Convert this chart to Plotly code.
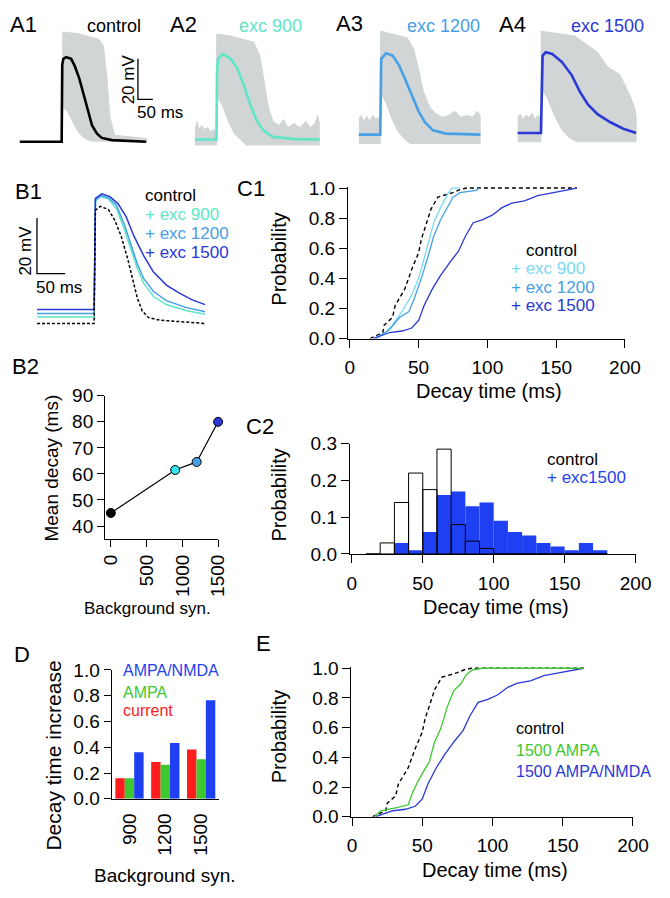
import plotly.graph_objects as go

W, H = 670, 898
FONT = 'Liberation Sans, Arial, sans-serif'

# colours
GREY = '#d1d5d5'
C_900 = '#5ee6c6'
C_900_CDF = '#7ad9f2'
C_900_DOT = '#33e3ef'
C_1200 = '#45a0e6'
C_1500 = '#2a38d6'
C_HIST = '#1f3ff2'
C_AMPA = '#3cc82e'
C_CUR = '#ff1c1c'

# ---------------- A1-A4: single trials (grey envelope) and mean (ms, mV) ----------------
a1_hi_t = [0, 4, 60, 124, 140, 151, 162, 178, 284]
a1_hi_v = [0, 54, 53, 50.4, 47.2, 32.8, 12, 3.2, 1.6]
a1_lo_t = [0, 4, 20, 40, 60, 80, 100, 284]
a1_lo_v = [0, 17, 15, 9, 4, 1.5, 0.3, 0.3]
a1_t = [-141.4, 0, 2, 5.5, 15.6, 31.9, 43, 59, 75.4, 89.4, 102, 118.6, 135, 168, 284]
a1_v = [0, 0, 38, 40.8, 41.6, 40.8, 37.6, 31.2, 22.4, 14.4, 8, 4, 1.9, 0.8, 0]

a2_hi_t = [-72.5, -65, -58, -50, -40, -30, -20, -10, -1, 1, 49, 125, 146, 157, 174, 190,
           210, 225, 240, 260, 280, 300, 315, 330, 340, 346.8]
a2_hi_v = [5, 10, 6, 8, 6, 7, 5, 6, 5, 53, 52, 49, 42, 33, 17, 10, 8, 11, 7, 9, 7, 10, 7, 9, 13, 8]
a2_lo_t = [-72.5, 0, 2, 20, 40, 60, 80, 100, 346.8]
a2_lo_v = [-1.6, -1.6, 22, 18, 10, 4, 1, -1.6, -1.6]
a2_t = [-72.5, 0, 2, 5.5, 21.8, 48.1, 70, 91.6, 113.1, 135, 156.8, 189.2, 265, 346.8]
a2_v = [1.1, 1.1, 35, 40.8, 43.2, 40.8, 36, 28, 18.4, 10.4, 5.6, 2.4, 1.3, 1.1]

a3_hi_t = [-72.8, -65, -55, -45, -35, -25, -15, -5, -1, 1, 90, 112, 128, 144, 166, 188,
           210, 230, 250, 270, 290, 310, 325, 336.6]
a3_hi_v = [11, 13, 10, 12.5, 10, 13, 11, 12, 11, 54.4, 51.2, 45.6, 36, 25, 17, 13.6,
           12, 13, 15, 12, 13, 12, 15, 13]
a3_lo_t = [-72.8, 0, 2, 20, 40, 60, 80, 100, 336.6]
a3_lo_v = [-0.8, -0.8, 24, 19, 11, 5, 1.5, -0.8, -0.8]
a3_t = [-72.8, 0, 3.25, 19.5, 41.3, 63.1, 84.5, 106.3, 128, 149.5, 176.8, 220, 336.6]
a3_v = [3.5, 3.5, 40.8, 43.5, 42.4, 37.6, 30.4, 22.4, 15.2, 9.6, 5.6, 4, 3.5]

a4_hi_t = [-79, -70, -60, -50, -40, -30, -20, -10, -1, 1, 114, 190, 222, 265, 298, 314, 320.8]
a4_hi_v = [12, 13.5, 11, 13, 12, 14, 11, 13, 12, 54.4, 52, 44, 37, 33, 23, 17, 12]
a4_lo_t = [-79, 0, 2, 20, 45, 70, 95, 120, 320.8]
a4_lo_v = [0, 0, 26, 22, 13, 6, 2, 0, 0]
a4_t = [-79, 0, 5.5, 16.3, 38, 70.5, 103, 130, 157.3, 189.8, 233, 276.3, 319.8]
a4_v = [4.3, 4.3, 42.4, 44, 43.2, 39.2, 32.8, 24.8, 18.4, 13.6, 9.6, 6.4, 4.3]

# ---------------- B1: mean traces (ms, mV) ----------------
b1_t_ctrl = [-101.7, 0, 2.3, 10.9, 25.3, 36.7, 48.3, 59.8, 68.4, 77, 85.7, 97, 117, 151.7, 197.7]
b1_v_ctrl = [0, 0, 40.7, 42.1, 41, 37.2, 31.3, 23.2, 16.1, 9.1, 4.5, 2.1, 1.2, 0.7, 0]
b1_t_900 = [-101.7, 0, 2.3, 10.9, 25.3, 39.7, 54, 65.5, 77, 88.4, 105.7, 128.7, 163, 197.7]
b1_v_900 = [2.35, 2.35, 44, 45.6, 44.8, 41.3, 33.7, 26.7, 19.7, 14.4, 9.7, 6.8, 4.7, 3.3]
b1_t_1200 = [-101.7, 0, 2.3, 12.6, 25.3, 39.7, 54, 65.5, 77, 88.4, 105.7, 128.7, 163, 197.7]
b1_v_1200 = [3.6, 3.6, 44.5, 46, 45.2, 42.5, 35.5, 28.4, 21.4, 16.1, 11.5, 8.2, 5.8, 4.2]
b1_t_1500 = [-101.7, 0, 2.3, 13.8, 28, 42.5, 56.9, 71.2, 88.4, 105.7, 128.7, 151.7, 174.7, 197.7]
b1_v_1500 = [5.0, 5.0, 45, 46.6, 45.6, 43.1, 38.4, 31.3, 24.3, 18.5, 13.8, 10.9, 8.5, 6.8]

# scale bars
SCALE_MS, SCALE_MV = 50, 20
a_bar_t, a_bar_v = 256, 20.8
b1_bar_t, b1_bar_v = -101.7, 17.9

# ---------------- C1 / E: cumulative distributions of decay time ----------------
cdf_ctrl_t = [14.6, 24, 25, 31, 33, 40, 45, 50, 52, 55.6, 59, 64, 71, 75, 80, 85, 165]
cdf_ctrl_p = [0, 0.04, 0.09, 0.14, 0.22, 0.33, 0.46, 0.57, 0.66, 0.77, 0.86, 0.94, 0.96, 0.97, 0.99, 1.0, 1.0]
cdf_900_t = [17, 26, 31, 38, 45, 50, 54, 58, 61, 66, 71, 74.4, 80]
cdf_900_p = [0, 0.04, 0.09, 0.18, 0.29, 0.40, 0.53, 0.66, 0.77, 0.87, 0.96, 1.0, 1.0]
cdf_1200_t = [19, 29, 36, 43, 47, 52, 57, 61, 66, 71, 75, 80, 92, 94]
cdf_1200_p = [0, 0.06, 0.14, 0.18, 0.27, 0.40, 0.55, 0.68, 0.79, 0.87, 0.94, 0.97, 0.985, 1.0]
cdf_1500_t = [17, 29, 38, 45, 50, 54, 60, 66, 73, 79, 84, 89.7, 96.7, 103.5, 110.6, 117.8,
              127, 136.6, 148, 158, 165]
cdf_1500_p = [0, 0.04, 0.05, 0.07, 0.12, 0.22, 0.33, 0.42, 0.51, 0.58, 0.68, 0.77, 0.79, 0.82,
              0.87, 0.90, 0.915, 0.95, 0.97, 0.99, 1.0]
cdf_ampa_t = [16, 20.5, 31, 40, 42.5, 47, 50.6, 55, 58.6, 63, 67.8, 72.4, 77, 81.6, 86, 93, 165]
cdf_ampa_p = [0, 0.04, 0.06, 0.08, 0.15, 0.24, 0.30, 0.37, 0.50, 0.59, 0.74, 0.85, 0.89, 0.96, 0.99, 1.0, 1.0]

# ---------------- B2: mean decay vs background synapses ----------------
b2_syn = [0, 900, 1200, 1500]
b2_decay = [45, 61.5, 64.6, 80]

# ---------------- C2: histograms (10 ms bins, left edges) ----------------
c2_left = [10, 20, 30, 40, 50, 60, 70, 80, 90, 100, 110, 120, 130, 140, 150, 160, 170]
c2_ctrl = [0, 0.03, 0.14, 0.22, 0.175, 0.285, 0.08, 0.035, 0.015, 0, 0, 0, 0, 0, 0, 0, 0]
c2_1500 = [0, 0, 0.03, 0.01, 0.06, 0.16, 0.17, 0.13, 0.14, 0.09, 0.06, 0.05, 0.03, 0.02, 0.01, 0.03, 0.01]

# ---------------- D: relative decay time increase ----------------
d_syn = ['900', '1200', '1500']
d_current = [0.16, 0.285, 0.382]
d_ampa = [0.16, 0.265, 0.306]
d_ampa_nmda = [0.361, 0.432, 0.765]


def xdom(a, b):
    return [a / W, b / W]


def ydom(top, bottom):
    return [1 - bottom / H, 1 - top / H]


fig = go.Figure()


def line(x, y, ax, color, width=1.4, dash=None):
    fig.add_trace(go.Scatter(x=x, y=y, mode='lines', xaxis='x' + ax, yaxis='y' + ax,
                             line=dict(color=color, width=width, dash=dash), hoverinfo='skip'))


# A panels
a_sets = [
    (a1_hi_t, a1_hi_v, a1_lo_t, a1_lo_v, a1_t, a1_v, 'black', ''),
    (a2_hi_t, a2_hi_v, a2_lo_t, a2_lo_v, a2_t, a2_v, C_900, '2'),
    (a3_hi_t, a3_hi_v, a3_lo_t, a3_lo_v, a3_t, a3_v, C_1200, '3'),
    (a4_hi_t, a4_hi_v, a4_lo_t, a4_lo_v, a4_t, a4_v, C_1500, '4'),
]
for hi_t, hi_v, lo_t, lo_v, mt, mv, col, ax in a_sets:
    fig.add_trace(go.Scatter(x=hi_t + lo_t[::-1], y=hi_v + lo_v[::-1], mode='lines', fill='toself',
                             fillcolor=GREY, line=dict(color=GREY, width=1),
                             xaxis='x' + ax, yaxis='y' + ax, hoverinfo='skip'))
    line(mt, mv, ax, col, width=2.6)

line([a_bar_t, a_bar_t, a_bar_t + SCALE_MS], [a_bar_v + SCALE_MV, a_bar_v, a_bar_v], '', 'black', 1.3)

# B1
line([b1_bar_t, b1_bar_t, b1_bar_t + SCALE_MS], [b1_bar_v + SCALE_MV, b1_bar_v, b1_bar_v], '5', 'black', 1.3)
line(b1_t_900, b1_v_900, '5', C_900, 1.5)
line(b1_t_1200, b1_v_1200, '5', C_1200, 1.5)
line(b1_t_1500, b1_v_1500, '5', C_1500, 1.5)
line(b1_t_ctrl, b1_v_ctrl, '5', 'black', 1.5, '3px,2px')

# C1
line(cdf_ctrl_t, cdf_ctrl_p, '6', 'black', 1.4, '4px,3px')
line(cdf_900_t, cdf_900_p, '6', C_900_CDF, 1.3)
line(cdf_1200_t, cdf_1200_p, '6', C_1200, 1.3)
line(cdf_1500_t, cdf_1500_p, '6', C_1500, 1.3)

# B2
fig.add_trace(go.Scatter(x=b2_syn, y=b2_decay, mode='lines+markers', xaxis='x7', yaxis='y7',
                         line=dict(color='black', width=1.2), cliponaxis=False,
                         marker=dict(size=9, color=['black', C_900_DOT, C_1200, C_1500],
                                     line=dict(color='black', width=1))))

# C2
fig.add_trace(go.Bar(x=c2_left, y=c2_ctrl, width=10, offset=0, xaxis='x8', yaxis='y8',
                     marker=dict(color='white', line=dict(width=0))))
fig.add_trace(go.Bar(x=c2_left, y=c2_1500, width=10, offset=0, xaxis='x8', yaxis='y8',
                     marker=dict(color=C_HIST, line=dict(width=0))))
fig.add_trace(go.Bar(x=c2_left, y=c2_ctrl, width=10, offset=0, xaxis='x8', yaxis='y8',
                     marker=dict(color='rgba(0,0,0,0)', line=dict(color='black', width=1))))

# D
bw = 0.263
for vals, col, off in [(d_current, C_CUR, -1.5 * bw), (d_ampa, C_AMPA, -0.5 * bw),
                       (d_ampa_nmda, C_HIST, 0.5 * bw)]:
    fig.add_trace(go.Bar(x=d_syn, y=vals, width=bw, offset=off, xaxis='x9', yaxis='y9',
                         marker=dict(color=col, line=dict(width=0))))

# E
line(cdf_ctrl_t, cdf_ctrl_p, '10', 'black', 1.4, '4px,3px')
line(cdf_1500_t, cdf_1500_p, '10', C_1500, 1.3)
line(cdf_ampa_t, cdf_ampa_p, '10', C_AMPA, 1.3)

hidden = dict(visible=False, showgrid=False, zeroline=False)
vis = dict(showline=True, linecolor='black', linewidth=1, ticks='outside', tickcolor='black',
           tickwidth=1, ticklen=8, showgrid=False, zeroline=False,
           tickfont=dict(size=19, color='black', family=FONT))
prob_ticks = dict(tickvals=[0, 0.2, 0.4, 0.6, 0.8, 1.0], tickformat='.1f')
ms_ticks = dict(tickvals=[0, 50, 100, 150, 200], ticklabelstandoff=4)

a_y = dict(hidden, domain=ydom(20, 142), range=[-3.4, 55.2])
layout_axes = dict(
    xaxis=dict(hidden, domain=xdom(15, 160), range=[-141.4, 330], anchor='y'),
    yaxis=dict(a_y, anchor='x'),
    xaxis2=dict(hidden, domain=xdom(196, 325), range=[-72.5, 346.8], anchor='y2'),
    yaxis2=dict(a_y, anchor='x2'),
    xaxis3=dict(hidden, domain=xdom(365, 491), range=[-72.8, 336.6], anchor='y3'),
    yaxis3=dict(a_y, anchor='x3'),
    xaxis4=dict(hidden, domain=xdom(529, 652), range=[-79, 320.8], anchor='y4'),
    yaxis4=dict(a_y, anchor='x4'),
    xaxis5=dict(hidden, domain=xdom(30, 207), range=[-106.9, 198.3], anchor='y5'),
    yaxis5=dict(hidden, domain=ydom(180, 325), range=[-1.4, 49.5], anchor='x5'),
    xaxis6=dict(vis, domain=xdom(354, 640), range=[-1.4, 200], anchor='y6', **ms_ticks),
    yaxis6=dict(vis, domain=ydom(180.8, 336.4), range=[0, 1.01], anchor='x6', **prob_ticks),
    xaxis7=dict(vis, domain=xdom(103.3, 220), range=[-81, 1500], anchor='y7', ticklen=7,
                tickvals=[0, 500, 1000, 1500], tickangle=-90),
    yaxis7=dict(vis, domain=ydom(395, 541.7), range=[35, 90], anchor='x7', ticklen=7,
                tickvals=[40, 50, 60, 70, 80, 90]),
    xaxis8=dict(vis, domain=xdom(356, 651), range=[-1.4, 200], anchor='y8', **ms_ticks),
    yaxis8=dict(vis, domain=ydom(444, 557), range=[0, 0.3], anchor='x8',
                tickvals=[0, 0.1, 0.2, 0.3], tickformat='.1f'),
    xaxis9=dict(vis, domain=xdom(110, 221), type='category', range=[-0.5, 2.5], anchor='y9',
                ticks='', tickangle=-90, ticklabelstandoff=6),
    yaxis9=dict(vis, domain=ydom(675.7, 807.7), range=[0, 1], anchor='x9', ticklen=7, **prob_ticks),
    xaxis10=dict(vis, domain=xdom(357.7, 648.3), range=[-0.4, 200], anchor='y10', **ms_ticks),
    yaxis10=dict(vis, domain=ydom(672.5, 826), range=[0, 1.01], anchor='x10', **prob_ticks),
)


def ann(text, x, y, size, color='black', xanchor='center', angle=0):
    return dict(text=text, x=x / W, y=1 - y / H, xref='paper', yref='paper', showarrow=False,
                font=dict(size=size, color=color, family=FONT), xanchor=xanchor,
                yanchor='middle', textangle=angle)


annotations = [
    # panel labels
    ann('A1', 3, 14.5, 22, xanchor='left'), ann('A2', 168, 14.5, 22, xanchor='left'),
    ann('A3', 340, 13.5, 22, xanchor='left'), ann('A4', 508, 14.5, 22, xanchor='left'),
    ann('B1', 8, 185.5, 22, xanchor='left'), ann('C1', 237, 182.5, 22, xanchor='left'),
    ann('B2', 5, 365.5, 22, xanchor='left'), ann('C2', 247, 426.5, 22, xanchor='left'),
    ann('D', 7, 659.5, 22, xanchor='left'), ann('E', 257, 649, 22, xanchor='left'),
    # A titles and scale
    ann('control', 112.5, 16, 18), ann('exc 900', 274.5, 16, 18, C_900),
    ann('exc 1200', 452.5, 16.5, 18, C_1200), ann('exc 1500', 622.5, 16.5, 18, C_1500),
    ann('20 mV', 127, 71, 17, angle=-90), ann('50 ms', 160, 104.5, 17),
    # B1
    ann('20 mV', 21, 246, 17, angle=-90), ann('50 ms', 56, 284.5, 17),
    ann('control', 142, 190, 17, xanchor='left'), ann('+ exc 900', 142, 209, 17, C_900, 'left'),
    ann('+ exc 1200', 142, 229, 17, C_1200, 'left'), ann('+ exc 1500', 142, 248.5, 17, C_1500, 'left'),
    # C1
    ann('Probability', 282.5, 255, 20, angle=-90), ann('Decay time (ms)', 500, 390, 20),
    ann('control', 536, 246, 17, xanchor='left'), ann('+ exc 900', 520, 265, 17, C_900_CDF, 'left'),
    ann('+ exc 1200', 520, 284, 17, C_1200, 'left'), ann('+ exc 1500', 520, 303, 17, C_1500, 'left'),
    # B2
    ann('Mean decay (ms)', 48, 469, 19, angle=-90), ann('Background syn.', 147, 613, 17),
    # C2
    ann('Probability', 283, 497, 20, angle=-90), ann('Decay time (ms)', 506.5, 611, 20),
    ann('control', 557, 460, 17, xanchor='left'), ann('+ exc1500', 557, 479, 17, C_HIST, 'left'),
    # D
    ann('Decay time increase', 50, 763, 21, angle=-90), ann('Background syn.', 165, 886, 19),
    ann('AMPA/NMDA', 120, 676.5, 16, C_HIST, 'left'), ann('AMPA', 120, 698.5, 16, C_AMPA, 'left'),
    ann('current', 120, 717, 16, C_CUR, 'left'),
    # E
    ann('Probability', 282.5, 744, 20, angle=-90), ann('Decay time (ms)', 505.5, 881, 20),
    ann('control', 525, 735.5, 16, xanchor='left'), ann('1500 AMPA', 525, 758.5, 16, C_AMPA, 'left'),
    ann('1500 AMPA/NMDA', 525, 780, 16, C_1500, 'left'),
]

fig.update_layout(width=W, height=H, margin=dict(l=0, r=0, t=0, b=0), showlegend=False,
                  paper_bgcolor='white', plot_bgcolor='white', barmode='overlay',
                  font=dict(family=FONT, color='black'), annotations=annotations, **layout_axes)

# page body margin would push the 670x898 figure off the window; no modebar on the still
fig.write_html('out.html', config={'staticPlot': True},
               post_script="document.body.style.margin='0';")
